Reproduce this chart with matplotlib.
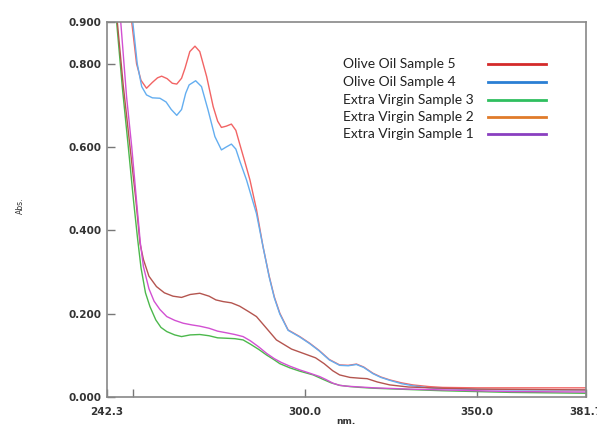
import numpy as np
import matplotlib
matplotlib.use("Agg")
import matplotlib.pyplot as plt
from matplotlib.lines import Line2D

# 数据 (nm, Abs)
s5_x = [247.5, 249.5, 250.9, 252.2, 253.8, 255.5, 257.0, 258.2, 259.8, 261.3, 262.6, 264.0, 265.0, 266.4,
        267.9, 269.3, 271.3, 273.2, 274.5, 275.6, 277.0, 278.5, 279.8, 281.0, 282.4, 283.9, 285.8,
        287.7, 289.5, 291.0, 292.6, 295.0, 298.4, 301.3, 304.0, 307.0, 310.0, 312.5, 314.9, 317.0, 319.7,
        322.0, 324.6, 328.0, 331.3, 336.0, 340.0, 350.0, 360.0, 370.0, 381.7]
s5_y = [1.2, 0.9, 0.80, 0.760, 0.741, 0.755, 0.766, 0.770, 0.764, 0.753, 0.751, 0.765, 0.789, 0.829,
        0.842, 0.829, 0.769, 0.697, 0.662, 0.647, 0.650, 0.655, 0.640, 0.605, 0.565, 0.521, 0.450,
        0.361, 0.290, 0.240, 0.201, 0.161, 0.145, 0.129, 0.112, 0.090, 0.077, 0.076, 0.079, 0.072, 0.057,
        0.048, 0.041, 0.034, 0.029, 0.025, 0.023, 0.022, 0.022, 0.022, 0.022]

s4_x = [247.8, 249.8, 251.1, 252.4, 253.8, 255.5, 257.7, 259.5, 261.0, 262.6, 264.0, 265.2, 266.2, 268.1,
        269.8, 271.7, 273.7, 275.6, 277.0, 278.5, 279.8, 281.0, 282.9, 285.8, 287.7, 289.5,
        291.0, 292.6, 295.0, 298.4, 301.3, 304.0, 307.0, 310.0, 312.5, 314.9, 317.0, 319.7, 322.0, 324.6,
        328.0, 331.3, 336.0, 340.0, 350.0, 360.0, 370.0, 381.7]
s4_y = [1.2, 0.9, 0.80, 0.745, 0.725, 0.718, 0.717, 0.708, 0.690, 0.676, 0.690, 0.729, 0.749, 0.759,
        0.745, 0.689, 0.625, 0.593, 0.600, 0.607, 0.595, 0.565, 0.521, 0.440, 0.361, 0.288,
        0.238, 0.199, 0.160, 0.144, 0.128, 0.111, 0.089, 0.076, 0.075, 0.078, 0.071, 0.056,
        0.047, 0.040, 0.032, 0.027, 0.022, 0.020, 0.018, 0.017, 0.017, 0.017]

s3_x = [243.3, 245.1, 246.8, 248.5, 250.0, 251.2, 252.2, 253.5, 254.8, 256.5, 258.0, 259.7, 262.0, 264.0,
        266.5, 269.3, 272.0, 274.5, 277.1, 279.5, 281.9, 284.0, 286.5, 288.7, 291.0, 292.6, 295.5, 298.4,
        302.3, 305.0, 307.5, 310.0, 313.0, 316.0, 320.0, 330.0, 340.0, 350.0, 360.0, 381.7]
s3_y = [1.2, 0.9, 0.74, 0.6, 0.473, 0.38, 0.31, 0.25, 0.217, 0.185, 0.167, 0.157, 0.149, 0.145,
        0.149, 0.150, 0.147, 0.142, 0.141, 0.140, 0.137, 0.127, 0.114, 0.101, 0.089, 0.080, 0.070, 0.062,
        0.053, 0.043, 0.034, 0.028, 0.025, 0.023, 0.021, 0.018, 0.015, 0.013, 0.011, 0.009]

s2_x = [243.5, 245.3, 247.0, 249.0, 250.7, 251.9, 252.9, 254.5, 256.7, 259.0, 261.5, 264.0, 266.5, 269.3,
        272.0, 274.0, 276.1, 278.5, 280.9, 283.5, 285.8, 288.5, 291.6, 296.0, 300.0, 303.0, 305.5, 308.0,
        310.0, 313.0, 316.0, 318.0, 321.0, 324.6, 330.0, 340.0, 350.0, 381.7]
s2_y = [1.2, 0.9, 0.75, 0.6, 0.473, 0.369, 0.33, 0.29, 0.265, 0.25, 0.242, 0.239, 0.246, 0.249,
        0.242, 0.233, 0.229, 0.226, 0.218, 0.205, 0.193, 0.167, 0.137, 0.115, 0.103, 0.094, 0.080, 0.063,
        0.053, 0.047, 0.045, 0.044, 0.036, 0.029, 0.024, 0.021, 0.019, 0.017]

s1_x = [244.0, 246.3, 248.0, 249.5, 250.9, 252.0, 252.9, 254.5, 256.0, 257.7, 259.7, 262.0, 264.5, 267.0,
        269.3, 272.0, 274.5, 277.1, 279.5, 281.9, 284.0, 286.5, 288.7, 291.0, 293.0, 295.5, 298.4, 301.0,
        304.2, 306.0, 308.1, 310.0, 312.0, 316.0, 320.0, 330.0, 340.0, 350.0, 360.0, 381.7]
s1_y = [1.2, 0.9, 0.72, 0.6, 0.47, 0.37, 0.313, 0.26, 0.23, 0.21, 0.193, 0.184, 0.177, 0.173,
        0.170, 0.165, 0.158, 0.154, 0.150, 0.145, 0.135, 0.12, 0.105, 0.092, 0.083, 0.074, 0.065, 0.058,
        0.049, 0.042, 0.033, 0.028, 0.026, 0.024, 0.022, 0.019, 0.017, 0.015, 0.013, 0.012]

labels = ["Olive Oil Sample 5", "Olive Oil Sample 4", "Extra Virgin Sample 3",
          "Extra Virgin Sample 2", "Extra Virgin Sample 1"]
line_colors = ["#f26464", "#64aef0", "#4cb84c", "#b4554f", "#d250d2"]
legend_colors = ["#d42a2a", "#2a7fd4", "#2fbf5f", "#e07b2a", "#8a3fc0"]

xticks = [242.3, 300.0, 350.0, 381.7]
yticks = [0.0, 0.2, 0.4, 0.6, 0.8, 0.9]

fig = plt.figure(figsize=(5.97, 4.26), dpi=100)
ax = fig.add_axes([107 / 597, 29 / 426, 479 / 597, 375 / 426])

# 曲线
series = [(s5_x, s5_y), (s4_x, s4_y), (s3_x, s3_y), (s2_x, s2_y), (s1_x, s1_y)]
for (xs, ys), c in zip(series, line_colors):
    ax.plot(xs, ys, color=c, lw=1.0)

ax.set_xlim(242.3, 381.7)
ax.set_ylim(0, 0.9)
ax.set_xticks(xticks)
ax.set_xticklabels(["%.1f" % v for v in xticks])
ax.set_xticks([250.0], minor=True)
ax.set_yticks(yticks)
ax.set_yticklabels(["%.3f" % v for v in yticks])
ax.tick_params(axis="both", which="both", direction="in", length=6, width=1.0, color="#777777",
               labelsize=7.5, labelcolor="#333333")
ax.tick_params(axis="x", pad=7)
ax.tick_params(axis="y", pad=4)
for lab in ax.get_xticklabels() + ax.get_yticklabels():
    lab.set_fontweight("bold")
for sp in ax.spines.values():
    sp.set_color("#888888")
    sp.set_linewidth(1.2)

fig.text(20 / 597, 1 - 206 / 426, "Abs.", rotation=90, fontsize=5.5, ha="center", va="center",
         color="#333333")
fig.text(346 / 597, 1 - 421 / 426, "nm.", fontsize=6.5, ha="center", va="center", color="#333333",
         fontweight="bold")

# 图例
ys_leg = [64, 82.3, 100, 116.7, 134.3]
for lab, c, yy in zip(labels, legend_colors, ys_leg):
    fig.text(343 / 597, 1 - yy / 426, lab, fontsize=10, family="Lato", color="#222222",
             ha="left", va="center")
    fig.add_artist(Line2D([488 / 597, 546 / 597], [1 - yy / 426, 1 - yy / 426], color=c, lw=2.0))

fig.savefig("out.png", dpi=100)
